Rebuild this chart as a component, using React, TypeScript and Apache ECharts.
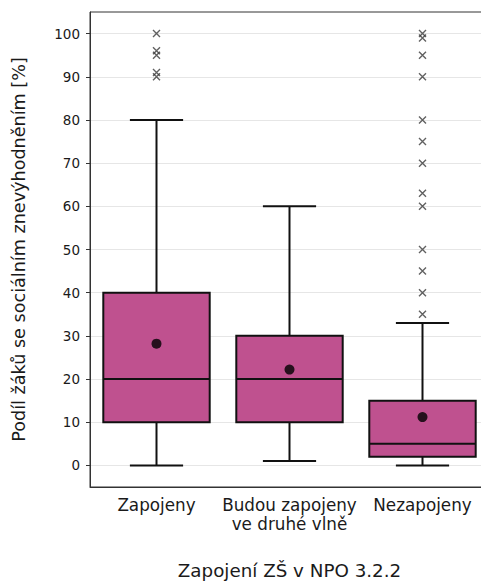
import React, { useEffect, useRef } from "react";
import * as echarts from "echarts";

const categories = ["Zapojeny", "Budou zapojeny\nve druhé vlně", "Nezapojeny"];
// [min, Q1, median, Q3, max]
const boxStats = [
  [0, 10, 20, 40, 80],
  [1, 10, 20, 30, 60],
  [0, 2, 5, 15, 33],
];
const means = [28.2, 22.2, 11.2];
const outliersZapojeny = [90, 91, 95, 96, 100];
const outliersBudou: number[] = [];
const outliersNezapojeny = [35, 40, 45, 50, 60, 63, 70, 75, 80, 90, 95, 99, 100];
const yTicks = [0, 10, 20, 30, 40, 50, 60, 70, 80, 90, 100];

const FONT = "DejaVu Sans";
const BOX_FILL = "#bf518f";
const INK = "#111111";

export default function App() {
  const ref = useRef<HTMLDivElement>(null);
  useEffect(() => {
    if (!ref.current) return;
    const chart = echarts.init(ref.current, null, { renderer: "svg" });
    const outlierData: number[][] = [];
    [outliersZapojeny, outliersBudou, outliersNezapojeny].forEach((arr, i) =>
      arr.forEach((v) => outlierData.push([i, v]))
    );
    chart.setOption({
      animation: false,
      backgroundColor: "#ffffff",
      grid: {
        left: 90,
        top: 12,
        width: 399,
        height: 475,
        outerBoundsMode: "none",
        containLabel: false,
        show: true,
        borderColor: "#333333",
        borderWidth: 1,
        backgroundColor: "transparent",
      },
      xAxis: {
        type: "category",
        data: categories,
        boundaryGap: true,
        name: "Zapojení ZŠ v NPO 3.2.2",
        nameLocation: "middle",
        nameGap: 74,
        nameTextStyle: { fontFamily: FONT, fontSize: 18.3, color: "#1a1a1a" },
        axisLine: { onZero: false, lineStyle: { color: "#333333", width: 1 } },
        axisTick: { alignWithLabel: true, length: 4, lineStyle: { color: "#333333" } },
        axisLabel: {
          fontFamily: FONT,
          fontSize: 16.8,
          color: "#1a1a1a",
          margin: 8,
          lineHeight: 19,
          interval: 0,
        },
        splitLine: { show: false },
      },
      yAxis: {
        type: "value",
        min: -5,
        max: 105,
        name: "Podíl žáků se sociálním znevýhodněním [%]",
        nameLocation: "middle",
        nameGap: 62,
        nameTextStyle: { fontFamily: FONT, fontSize: 17.6, color: "#1a1a1a" },
        axisLine: { show: true, lineStyle: { color: "#333333", width: 1 } },
        axisTick: { show: true, length: 4, customValues: yTicks, lineStyle: { color: "#333333" } },
        axisLabel: {
          fontFamily: FONT,
          fontSize: 13.5,
          color: "#1a1a1a",
          margin: 10,
          customValues: yTicks,
        },
        splitLine: { show: true, customValues: yTicks, lineStyle: { color: "#e6e6e6", width: 1 } },
      },
      series: [
        {
          type: "custom",
          data: boxStats.map((s, i) => [i, ...s]),
          encode: { x: 0, y: [1, 2, 3, 4, 5] },
          renderItem: (params: any, api: any) => {
            const x = api.value(0);
            const vMin = api.value(1);
            const vQ1 = api.value(2);
            const vMed = api.value(3);
            const vQ3 = api.value(4);
            const vMax = api.value(5);
            const band = api.size([1, 0])[0];
            const boxW = band * 0.8;
            const capW = boxW * 0.5;
            const pMin = api.coord([x, vMin]);
            const pQ1 = api.coord([x, vQ1]);
            const pMed = api.coord([x, vMed]);
            const pQ3 = api.coord([x, vQ3]);
            const pMax = api.coord([x, vMax]);
            const cx = pMin[0];
            const ls = { stroke: INK, lineWidth: 2 };
            return {
              type: "group",
              children: [
                { type: "line", shape: { x1: cx, y1: pQ3[1], x2: cx, y2: pMax[1] }, style: ls },
                { type: "line", shape: { x1: cx, y1: pMin[1], x2: cx, y2: pQ1[1] }, style: ls },
                { type: "line", shape: { x1: cx - capW / 2, y1: pMax[1], x2: cx + capW / 2, y2: pMax[1] }, style: ls },
                { type: "line", shape: { x1: cx - capW / 2, y1: pMin[1], x2: cx + capW / 2, y2: pMin[1] }, style: ls },
                {
                  type: "rect",
                  shape: { x: cx - boxW / 2, y: pQ3[1], width: boxW, height: pQ1[1] - pQ3[1] },
                  style: { fill: BOX_FILL, stroke: INK, lineWidth: 2 },
                },
                { type: "line", shape: { x1: cx - boxW / 2, y1: pMed[1], x2: cx + boxW / 2, y2: pMed[1] }, style: ls },
              ],
            };
          },
        },
        {
          type: "scatter",
          data: outlierData,
          symbol: "path://M0,0L10,10M10,0L0,10",
          symbolSize: 7,
          itemStyle: { color: "none", borderColor: "#3a3a3a", borderWidth: 1.4 },
          silent: true,
        },
        {
          type: "scatter",
          data: means.map((m, i) => [i, m]),
          symbol: "circle",
          symbolSize: 10,
          itemStyle: { color: "#000000" },
          silent: true,
        },
      ],
    });
    return () => chart.dispose();
  }, []);
  return (
    <div
      ref={ref}
      style={{ position: "fixed", left: 0, top: 0, width: 481, height: 582 }}
    />
  );
}
